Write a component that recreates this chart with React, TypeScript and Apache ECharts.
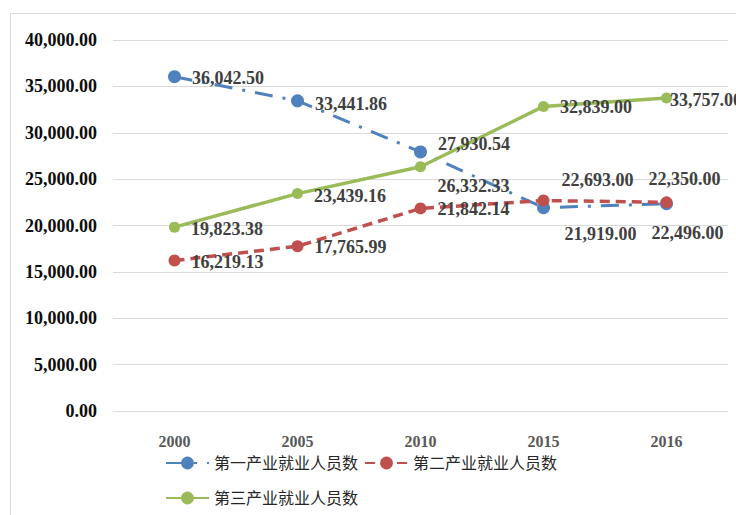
import React, { useEffect, useRef } from "react";
import * as echarts from "echarts";

const years = ["2000", "2005", "2010", "2015", "2016"];
const primary = [36042.5, 33441.86, 27930.54, 21919.0, 22350.0];
const secondary = [16219.13, 17765.99, 21842.14, 22693.0, 22496.0];
const tertiary = [19823.38, 23439.16, 26332.33, 32839.0, 33757.0];
const names = ["第一产业就业人员数", "第二产业就业人员数", "第三产业就业人员数"];

const SERIF = "'Liberation Serif', 'Times New Roman', 'Noto Sans CJK SC', serif";
const fmt = (v: number) =>
  v.toLocaleString("en-US", { minimumFractionDigits: 2, maximumFractionDigits: 2 });

type LP = { position: string; offset: number[] };
const primaryLabels: LP[] = [
  { position: "right", offset: [0, 1] },
  { position: "right", offset: [0, 3] },
  { position: "right", offset: [0, -8] },
  { position: "bottom", offset: [57, 0] },
  { position: "top", offset: [18, 2] },
];
const secondaryLabels: LP[] = [
  { position: "right", offset: [0, 1] },
  { position: "right", offset: [0, 1] },
  { position: "right", offset: [0, 1] },
  { position: "top", offset: [54, 5] },
  { position: "bottom", offset: [21, 5] },
];
const tertiaryLabels: LP[] = [
  { position: "right", offset: [0, 2] },
  { position: "right", offset: [0, 2] },
  { position: "bottom", offset: [53, -6] },
  { position: "right", offset: [0, 1] },
  { position: "right", offset: [-13, 2] },
];

function build(values: number[], labels: LP[]) {
  return values.map((v, i) => ({
    value: v,
    label: { position: labels[i].position, offset: labels[i].offset },
  }));
}

export default function App() {
  const ref = useRef<HTMLDivElement>(null);
  useEffect(() => {
    document.body.style.margin = "0";
    if (!ref.current) return;
    const chart = echarts.init(ref.current, undefined, { renderer: "svg" });
    const labelBase = {
      show: true,
      distance: 11,
      fontFamily: SERIF,
      fontWeight: "bold",
      fontSize: 18,
      color: "#404040",
      formatter: (p: any) => fmt(p.value),
    };
    const legendText = { fontFamily: SERIF, fontSize: 16, color: "#262626" };
    chart.setOption({
      animation: false,
      backgroundColor: "#ffffff",
      graphic: [
        {
          type: "rect",
          shape: { x: 10.5, y: 13.5, width: 800, height: 600 },
          style: { fill: "none", stroke: "#d9d9d9", lineWidth: 1 },
          silent: true,
        },
      ],
      grid: { left: 113, right: 8, top: 40, bottom: 104, containLabel: false },
      legend: [
        {
          data: [names[0], names[1]],
          left: 160,
          top: 450,
          itemWidth: 43,
          itemHeight: 16,
          itemGap: 6,
          textStyle: legendText,
        },
        {
          data: [names[2]],
          left: 160,
          top: 485,
          itemWidth: 43,
          itemHeight: 16,
          itemGap: 6,
          textStyle: legendText,
        },
      ],
      xAxis: {
        type: "category",
        data: years,
        boundaryGap: true,
        axisLine: { show: false },
        axisTick: { show: false },
        axisLabel: {
          margin: 22,
          fontFamily: SERIF,
          fontWeight: "bold",
          fontSize: 16,
          color: "#595959",
        },
      },
      yAxis: {
        type: "value",
        min: 0,
        max: 40000,
        interval: 5000,
        axisLine: { show: false },
        axisTick: { show: false },
        splitLine: { lineStyle: { color: "#d9d9d9", width: 1 } },
        axisLabel: {
          margin: 16,
          fontFamily: SERIF,
          fontWeight: "bold",
          fontSize: 18,
          color: "#0d0d0d",
          formatter: (v: number) => fmt(v),
        },
      },
      series: [
        {
          name: names[0],
          type: "line",
          data: build(primary, primaryLabels),
          symbol: "circle",
          symbolSize: 13,
          color: "#4f81bd",
          lineStyle: { color: "#4f81bd", width: 3, type: [18, 10, 3, 10] },
          itemStyle: { color: "#4f81bd" },
          label: labelBase,
        },
        {
          name: names[1],
          type: "line",
          data: build(secondary, secondaryLabels),
          symbol: "circle",
          symbolSize: 12,
          color: "#c0504d",
          lineStyle: { color: "#c0504d", width: 3.5, type: [10, 6] },
          itemStyle: { color: "#c0504d" },
          label: labelBase,
        },
        {
          name: names[2],
          type: "line",
          data: build(tertiary, tertiaryLabels),
          symbol: "circle",
          symbolSize: 11,
          color: "#9bbb59",
          lineStyle: { color: "#9bbb59", width: 3.5, type: "solid" },
          itemStyle: { color: "#9bbb59" },
          label: labelBase,
        },
      ],
    });
    return () => chart.dispose();
  }, []);
  return <div ref={ref} style={{ width: 736, height: 515 }} />;
}
